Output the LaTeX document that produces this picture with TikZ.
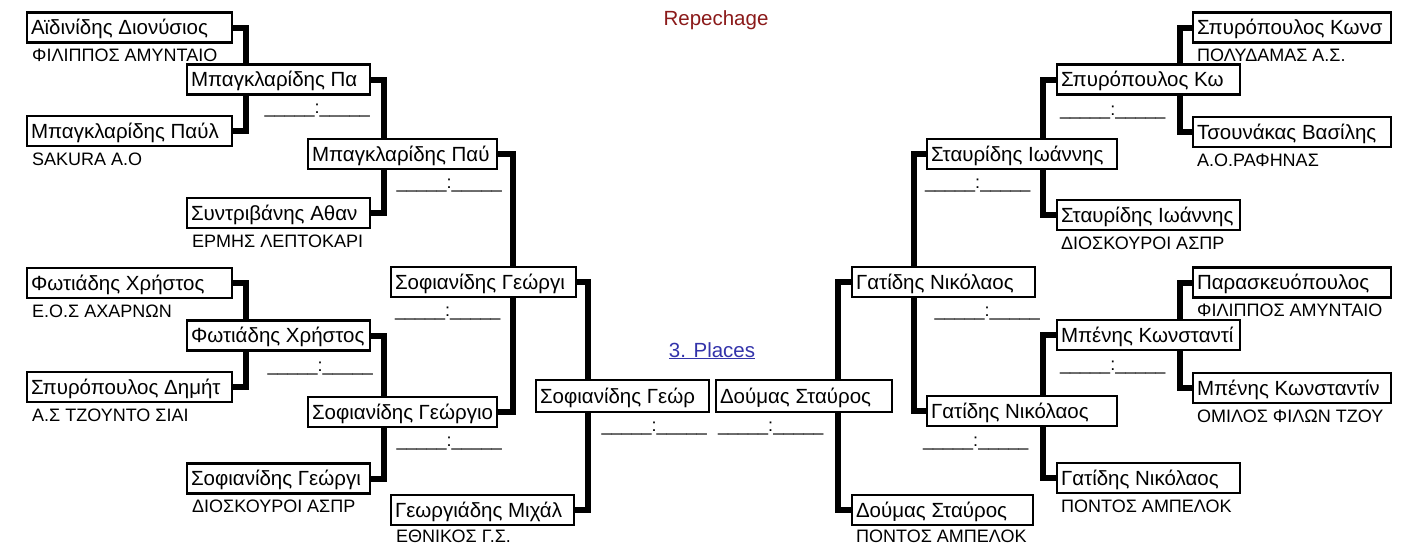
\documentclass[tikz,border=0pt]{standalone}
\usepackage{fontspec}
\setmainfont{Liberation Sans}
\definecolor{repred}{RGB}{139,26,26}
\definecolor{placeblue}{RGB}{51,51,170}
\newcommand{\namefont}{\fontsize{20.5}{24}\selectfont}
\newcommand{\clubfont}{\fontsize{18}{21}\selectfont}
\newcommand{\blank}{\_\_\_\_\_:\_\_\_\_\_}
\begin{document}
\begin{tikzpicture}[x=1pt,y=-1pt,
  player/.style={draw,fill=white,line width=2.5pt,outer sep=0pt,anchor=west,
    inner xsep=4pt,inner ysep=0pt,text height=22pt,text depth=8pt,
    minimum height=30pt,font=\namefont,
    execute at begin node={\hbox to #1\bgroup},
    execute at end node={\hfil\egroup}},
  club/.style={anchor=base west,inner sep=0pt,font=\clubfont},
  score/.style={inner sep=0pt,font=\clubfont},
  link/.style={line width=6pt}]
\useasboundingbox (0,0) rectangle (1425,544);
\path (716,25) node(rep) [anchor=base,inner sep=0pt,font=\namefont,text=repred] {Repechage};
\path (712,357) node(places) [anchor=base,inner sep=0pt,font=\namefont,text=placeblue] {\underline{3. Places}};
% left half
\path (27,27.5) node(l1_0) [player=197pt] {Αϊδινίδης Διονύσιος};
\path (27,131) node(l1_1) [player=197pt] {Μπαγκλαρίδης Παύλ};
\path (27,283) node(l1_2) [player=197pt] {Φωτιάδης Χρήστος};
\path (27,387) node(l1_3) [player=197pt] {Σπυρόπουλος Δημήτ};
\path ([xshift=5pt,yshift=-19pt]l1_0.south west) node(c_l1_0) [club] {ΦΙΛΙΠΠΟΣ ΑΜΥΝΤΑΙΟ};
\path ([xshift=5pt,yshift=-19pt]l1_1.south west) node(c_l1_1) [club] {SAKURA A.O};
\path ([xshift=5pt,yshift=-19pt]l1_2.south west) node(c_l1_2) [club] {Ε.Ο.Σ ΑΧΑΡΝΩΝ};
\path ([xshift=5pt,yshift=-19pt]l1_3.south west) node(c_l1_3) [club] {Α.Σ ΤΖΟΥΝΤΟ ΣΙΑΙ};
\draw[link] (l1_0.east) -- ++(14,0) |- (l1_1.east);
\draw[link] (l1_2.east) -- ++(14,0) |- (l1_3.east);
\path (187,79.5) node(l2_0) [player=175pt] {Μπαγκλαρίδης Πα};
\path (187,213) node(l2_1) [player=175pt] {Συντριβάνης Αθαν};
\path (187,335.5) node(l2_2) [player=175pt] {Φωτιάδης Χρήστος};
\path (187,478.5) node(l2_3) [player=175pt] {Σοφιανίδης Γεώργι};
\path ([xshift=5pt,yshift=-19pt]l2_1.south west) node(c_l2_1) [club] {ΕΡΜΗΣ ΛΕΠΤΟΚΑΡΙ};
\path ([xshift=5pt,yshift=-19pt]l2_3.south west) node(c_l2_3) [club] {ΔΙΟΣΚΟΥΡΟΙ ΑΣΠΡ};
\path (370,113) node(s_l2_0) [score,anchor=base east] {\blank};
\path (373,371) node(s_l2_2) [score,anchor=base east] {\blank};
\draw[link] (l2_0.east) -- ++(14,0) |- (l2_1.east);
\draw[link] (l2_2.east) -- ++(14,0) |- (l2_3.east);
\path (308,154) node(l3_0) [player=181pt] {Μπαγκλαρίδης Παύ};
\path (308,412) node(l3_1) [player=181pt] {Σοφιανίδης Γεώργιο};
\path (502,188) node(s_l3_0) [score,anchor=base east] {\blank};
\path (502,446) node(s_l3_1) [score,anchor=base east] {\blank};
\draw[link] (l3_0.east) -- ++(16,0) |- (l3_1.east);
\path (391,282) node(l4_0) [player=177pt] {Σοφιανίδης Γεώργι};
\path (391,510) node(l4_1) [player=175pt] {Γεωργιάδης Μιχάλ};
\path ([xshift=5pt,yshift=-17pt]l4_1.south west) node(c_l4_1) [club] {ΕΘΝΙΚΟΣ Γ.Σ.};
\path (395,316) node(s_l4_0) [score,anchor=base west] {\blank};
\draw[link] (l4_0.east) -- ++(12,0) |- (l4_1.east);
\path (536,396) node(l5_0) [player=165pt,minimum height=32pt] {Σοφιανίδης Γεώρ};
\path (707,431) node(s_l5_0) [score,anchor=base east] {\blank};
% right half
\path (1193,27.5) node(r1_0) [player=190pt] {Σπυρόπουλος Κωνσ};
\path (1193,132) node(r1_1) [player=190pt] {Τσουνάκας Βασίλης};
\path (1193,282.5) node(r1_2) [player=190pt] {Παρασκευόπουλος};
\path (1193,388) node(r1_3) [player=190pt] {Μπένης Κωνσταντίν};
\path ([xshift=4pt,yshift=-19pt]r1_0.south west) node(c_r1_0) [club] {ΠΟΛΥΔΑΜΑΣ Α.Σ.};
\path ([xshift=4pt,yshift=-19pt]r1_1.south west) node(c_r1_1) [club] {Α.Ο.ΡΑΦΗΝΑΣ};
\path ([xshift=4pt,yshift=-19pt]r1_2.south west) node(c_r1_2) [club] {ΦΙΛΙΠΠΟΣ ΑΜΥΝΤΑΙΟ};
\path ([xshift=4pt,yshift=-19pt]r1_3.south west) node(c_r1_3) [club] {ΟΜΙΛΟΣ ΦΙΛΩΝ ΤΖΟΥ};
\draw[link] (r1_0.west) -- ++(-13,0) |- (r1_1.west);
\draw[link] (r1_2.west) -- ++(-13,0) |- (r1_3.west);
\path (1057,79.5) node(r2_0) [player=175pt] {Σπυρόπουλος Κω};
\path (1057,215) node(r2_1) [player=175pt] {Σταυρίδης Ιωάννης};
\path (1057,335) node(r2_2) [player=175pt] {Μπένης Κωνσταντί};
\path (1057,478) node(r2_3) [player=175pt] {Γατίδης Νικόλαος};
\path ([xshift=4pt,yshift=-19pt]r2_1.south west) node(c_r2_1) [club] {ΔΙΟΣΚΟΥΡΟΙ ΑΣΠΡ};
\path ([xshift=4pt,yshift=-19pt]r2_3.south west) node(c_r2_3) [club] {ΠΟΝΤΟΣ ΑΜΠΕΛΟΚ};
\path (1060,115) node(s_r2_0) [score,anchor=base west] {\blank};
\path (1060,370) node(s_r2_2) [score,anchor=base west] {\blank};
\draw[link] (r2_0.west) -- ++(-14,0) |- (r2_1.west);
\draw[link] (r2_2.west) -- ++(-14,0) |- (r2_3.west);
\path (927,154) node(r3_0) [player=182pt] {Σταυρίδης Ιωάννης};
\path (927,411) node(r3_1) [player=182pt] {Γατίδης Νικόλαος};
\path (925,188) node(s_r3_0) [score,anchor=base west] {\blank};
\path (923,446) node(s_r3_1) [score,anchor=base west] {\blank};
\draw[link] (r3_0.west) -- ++(-13,0) |- (r3_1.west);
\path (852,282) node(r4_0) [player=175pt] {Γατίδης Νικόλαος};
\path (852,510) node(r4_1) [player=173pt] {Δούμας Σταύρος};
\path ([xshift=4pt,yshift=-17pt]r4_1.south west) node(c_r4_1) [club] {ΠΟΝΤΟΣ ΑΜΠΕΛΟΚ};
\path (1040,316) node(s_r4_0) [score,anchor=base east] {\blank};
\draw[link] (r4_0.west) -- ++(-14,0) |- (r4_1.west);
\path (716,396) node(r5_0) [player=168pt,minimum height=32pt] {Δούμας Σταύρος};
\path (718,431) node(s_r5_0) [score,anchor=base west] {\blank};
\end{tikzpicture}
\end{document}
